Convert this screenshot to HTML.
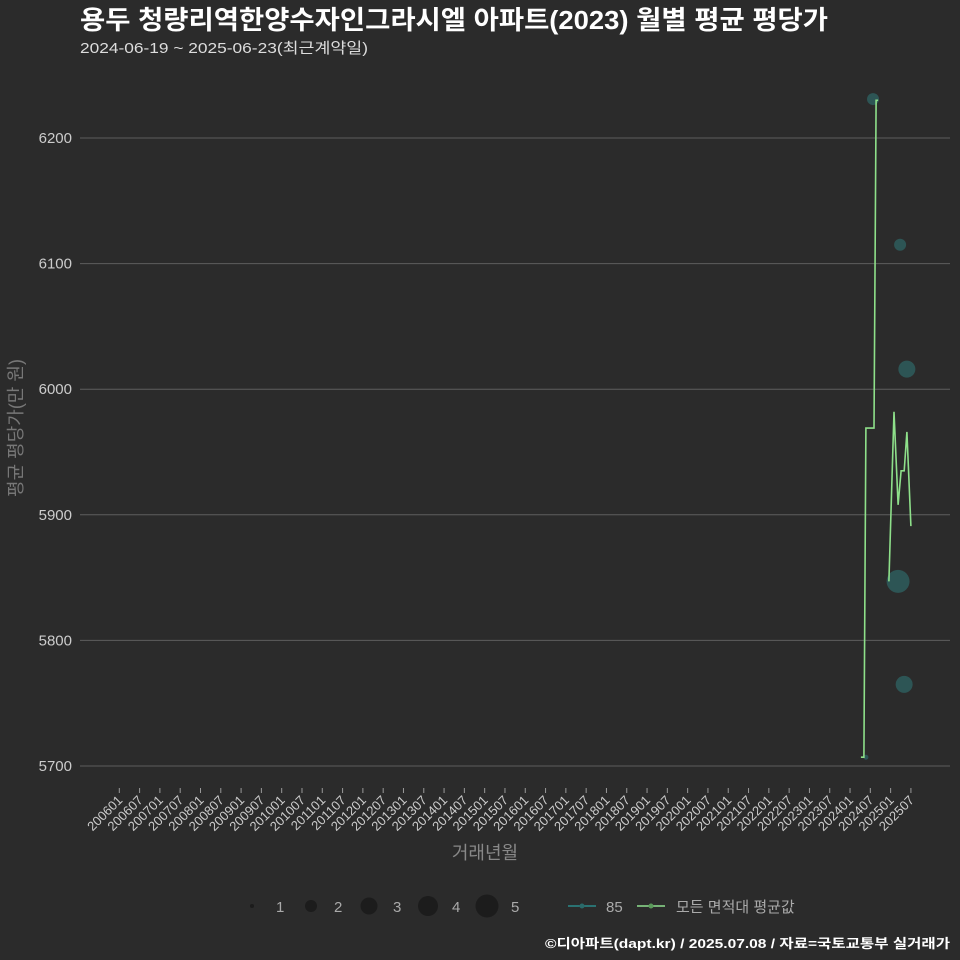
<!DOCTYPE html>
<html><head><meta charset="utf-8"><style>
html,body{margin:0;padding:0;background:#2b2b2b;}
svg{display:block;font-family:"Liberation Sans","Noto Sans CJK KR",sans-serif;}
</style></head><body>
<svg id="chart" width="960" height="960" viewBox="0 0 960 960" xmlns="http://www.w3.org/2000/svg">
<rect width="960" height="960" fill="#2b2b2b"/>
<text x="80" y="29" fill="#ffffff" font-size="26" font-weight="bold" textLength="748" lengthAdjust="spacingAndGlyphs">용두 청량리역한양수자인그라시엘 아파트(2023) 월별 평균 평당가</text>
<text x="80" y="53" fill="#dddddd" font-size="15" textLength="288" lengthAdjust="spacingAndGlyphs">2024-06-19 ~ 2025-06-23(최근계약일)</text>
<g id="grid"></g>
<g id="yticks"></g>
<g id="xticks"></g>
<text transform="translate(22,428) rotate(-90)" text-anchor="middle" fill="#777" font-size="18">평균 평당가(만 원)</text>
<text x="485" y="859" text-anchor="middle" fill="#888" font-size="18">거래년월</text>
<g id="points"></g>
<g id="lines"></g>
<g id="legend">
<circle cx="252" cy="906" r="2" fill="#1c1c1c"/>
<text x="276" y="912" fill="#aaa" font-size="15">1</text>
<circle cx="311" cy="906" r="6" fill="#1c1c1c"/>
<text x="334" y="912" fill="#aaa" font-size="15">2</text>
<circle cx="369" cy="906" r="8.5" fill="#1c1c1c"/>
<text x="393" y="912" fill="#aaa" font-size="15">3</text>
<circle cx="428" cy="906" r="10" fill="#1c1c1c"/>
<text x="452" y="912" fill="#aaa" font-size="15">4</text>
<circle cx="487" cy="906" r="11.5" fill="#1c1c1c"/>
<text x="511" y="912" fill="#aaa" font-size="15">5</text>
<line x1="568" y1="906" x2="596" y2="906" stroke="#2a8a8a" stroke-width="1.5"/>
<circle cx="582" cy="906" r="2.5" fill="#2a6a6a"/>
<text x="606" y="912" fill="#aaa" font-size="15">85</text>
<line x1="637" y1="906" x2="665" y2="906" stroke="#90e090" stroke-width="1.5"/>
<circle cx="651" cy="906" r="2.5" fill="#5a9a5a"/>
<text x="676" y="912" fill="#aaa" font-size="15">모든 면적대 평균값</text>
</g>
<text x="950" y="948" text-anchor="end" fill="#ffffff" font-size="13" font-weight="bold" textLength="405" lengthAdjust="spacingAndGlyphs">©디아파트(dapt.kr) / 2025.07.08 / 자료=국토교통부 실거래가</text>
</svg>
<script>
const yTicks = [5700, 5800, 5900, 6000, 6100, 6200];
const xTickLabels = [];
for (let y = 2006; y <= 2025; y++) { xTickLabels.push(y + "01"); xTickLabels.push(y + "07"); }
const pointDates = ["2024-07-25", "2025-03-25", "2025-05-25", "2025-03-07", "2025-05-01", "2024-05-22"];
const pointValues = [6231, 6115, 6016, 5847, 5765, 5707];
const pointCounts = [2, 2, 3, 5, 3, 1];
const avgDates1 = ["2024-04-07", "2024-05-04", "2024-05-22", "2024-08-04", "2024-08-22", "2024-09-10"];
const avgValues1 = [5707, 5707, 5969, 5969, 6230, 6230];
const avgDates2 = ["2024-12-16", "2025-02-01", "2025-03-07", "2025-04-04", "2025-05-01", "2025-05-25", "2025-07-01"];
const avgValues2 = [5847, 5982, 5908, 5935, 5935, 5966, 5891];

const NS = "http://www.w3.org/2000/svg";
function monthIdx(s) {
  if (s.length === 6) return (+s.slice(0,4) - 2006) * 12 + (+s.slice(4,6) - 1);
  const p = s.split("-");
  return (+p[0] - 2006) * 12 + (+p[1] - 1) + (+p[2] - 1) / 30;
}
function xs(m) { return 119.3 + m * 3.383; }
function ys(v) { return 766 - (v - 5700) * 1.256; }
function mk(tag, attrs, parent) {
  const el = document.createElementNS(NS, tag);
  for (const k in attrs) el.setAttribute(k, attrs[k]);
  parent.appendChild(el);
  return el;
}
function rad(c) { return [0, 2.5, 6, 8.5, 10, 11.5][c]; }

const grid = document.getElementById("grid");
const yg = document.getElementById("yticks");
yTicks.forEach(v => {
  const l = mk("line", {x1: 80, x2: 950, y1: ys(v), y2: ys(v), stroke: "#5e5e5e", "stroke-width": 1}, grid);
  
  
  const t = mk("text", {x: 72, y: ys(v) + 5, "text-anchor": "end", fill: "#cccccc", "font-size": 15}, yg);
  t.textContent = v;
  
  
});
const xg = document.getElementById("xticks");
xTickLabels.forEach(lb => {
  const x = xs(monthIdx(lb));
  const tk = mk("line", {x1: x, x2: x, y1: 788, y2: 793, stroke: "#999", "stroke-width": 1}, xg);
  
  
  const t = mk("text", {x: x + 4, y: 801, "text-anchor": "end", fill: "#cccccc", "font-size": 13, transform: "rotate(-45 " + (x + 4) + " 801)"}, xg);
  t.textContent = lb;
  
  
});
const pg = document.getElementById("points");
pointDates.forEach((d, i) => {
  const c = mk("circle", {cx: xs(monthIdx(d)), cy: ys(pointValues[i]), r: rad(pointCounts[i]), fill: "#2f6464", "fill-opacity": 0.75}, pg);
  
  
});
const lg = document.getElementById("lines");
[[avgDates1, avgValues1], [avgDates2, avgValues2]].forEach((s, k) => {
  const pts = s[0].map((d, i) => xs(monthIdx(d)).toFixed(1) + "," + ys(s[1][i]).toFixed(1)).join(" ");
  const pl = mk("polyline", {points: pts, fill: "none", stroke: "#8ee08a", "stroke-width": 1.6}, lg);
  
  
});
</script>
</body></html>
